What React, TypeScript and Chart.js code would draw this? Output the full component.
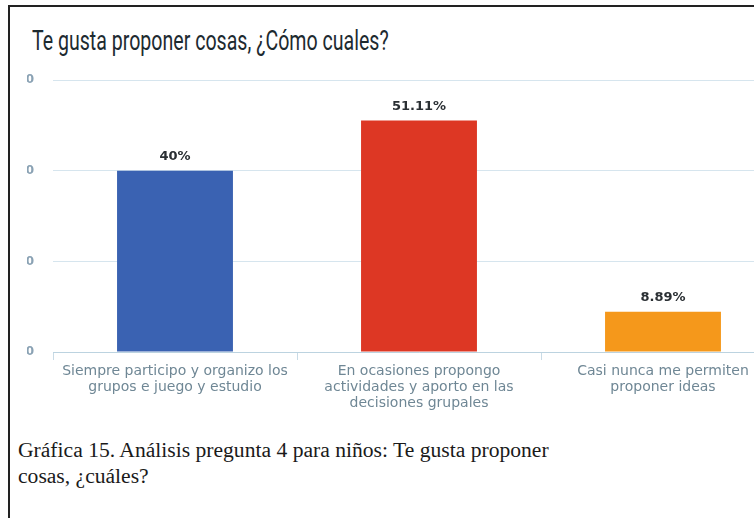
import React, { useEffect, useRef } from "react";
import { Chart, registerables } from "chart.js";

Chart.register(...registerables);

const categories: string[][] = [
  ["Siempre participo y organizo los", "grupos e juego y estudio"],
  ["En ocasiones propongo", "actividades y aporto en las", "decisiones grupales"],
  ["Casi nunca me permiten", "proponer ideas"],
];
const values: number[] = [40, 51.11, 8.89];
const valueLabels: string[] = ["40%", "51.11%", "8.89%"];
const barColors: string[] = ["#3a62b2", "#dd3724", "#f5981b"];
const yMax = 60;
const yStep = 20;

const titleText = "Te gusta proponer cosas, ¿Cómo cuales?";
const captionLine1 = "Gráfica 15. Análisis pregunta 4 para niños: Te gusta proponer";
const captionLine2 = "cosas, ¿cuáles?";

const valueLabelPlugin = {
  id: "valueLabels",
  afterDatasetsDraw(chart: any) {
    const ctx = chart.ctx;
    const meta = chart.getDatasetMeta(0);
    ctx.save();
    ctx.font = "bold 13px 'DejaVu Sans'";
    ctx.fillStyle = "#2a2f33";
    ctx.textAlign = "center";
    ctx.textBaseline = "middle";
    meta.data.forEach((el: any, i: number) => {
      ctx.fillText(valueLabels[i], el.x, el.y - 14);
    });
    ctx.restore();
  },
};

export default function App() {
  const ref = useRef<HTMLCanvasElement | null>(null);

  useEffect(() => {
    if (!ref.current) return;
    const chart = new Chart(ref.current, {
      type: "bar",
      data: {
        labels: categories,
        datasets: [
          {
            data: values,
            backgroundColor: barColors,
            borderWidth: 0,
            barPercentage: 0.95,
            categoryPercentage: 0.5,
          },
        ],
      },
      options: {
        responsive: false,
        animation: false,
        layout: { padding: { left: 0, right: 15, top: 20, bottom: 0 } },
        plugins: {
          legend: { display: false },
          tooltip: { enabled: false },
          title: { display: false },
        },
        scales: {
          x: {
            afterFit: (s: any) => {
              s.height = 62;
            },
            border: { display: true, color: "#bcd3e0", width: 1 },
            grid: {
              display: true,
              drawOnChartArea: false,
              offset: true,
              tickLength: 8,
              color: "#c9dbe6",
            },
            ticks: {
              autoSkip: false,
              maxRotation: 0,
              minRotation: 0,
              padding: 3,
              color: "#6f8795",
              font: { family: "'DejaVu Sans'", size: 14, lineHeight: "16px" },
            },
          },
          y: {
            min: 0,
            max: yMax,
            afterFit: (s: any) => {
              s.width = 53;
            },
            border: { display: false },
            grid: { color: "#d6e5ee", drawTicks: false },
            ticks: {
              stepSize: yStep,
              padding: 19,
              color: "#8aa2b4",
              font: { family: "'DejaVu Sans'", size: 12, weight: "bold" },
            },
          },
        },
      },
      plugins: [valueLabelPlugin],
    });
    return () => chart.destroy();
  }, []);

  return (
    <div
      style={{
        position: "fixed",
        left: 0,
        top: 0,
        width: 754,
        height: 518,
        background: "#ffffff",
        overflow: "hidden",
      }}
    >
      <div
        style={{
          position: "absolute",
          left: 8,
          top: 5,
          width: 760,
          height: 530,
          borderTop: "2px solid #222",
          borderLeft: "2px solid #222",
        }}
      />
      <div
        style={{
          position: "absolute",
          left: 32,
          top: 25,
          fontFamily: "Roboto, sans-serif",
          fontSize: 27,
          color: "#1d2a30",
          whiteSpace: "nowrap",
          transform: "scaleX(0.725)",
          transformOrigin: "left top",
        }}
      >
        {titleText}
      </div>
      <div
        style={{
          position: "absolute",
          left: 27,
          top: 54,
          width: 727,
          height: 360,
          overflow: "hidden",
        }}
      >
        <canvas
          ref={ref}
          width={800}
          height={360}
          style={{ position: "absolute", left: -27, top: 0, width: 800, height: 360 }}
        />
      </div>
      <div
        style={{
          position: "absolute",
          left: 18,
          top: 437,
          fontFamily: "'Liberation Serif', 'Times New Roman', serif",
          fontSize: 21.6,
          lineHeight: "26px",
          color: "#1a1a1a",
          whiteSpace: "nowrap",
        }}
      >
        {captionLine1}
        <br />
        {captionLine2}
      </div>
    </div>
  );
}
